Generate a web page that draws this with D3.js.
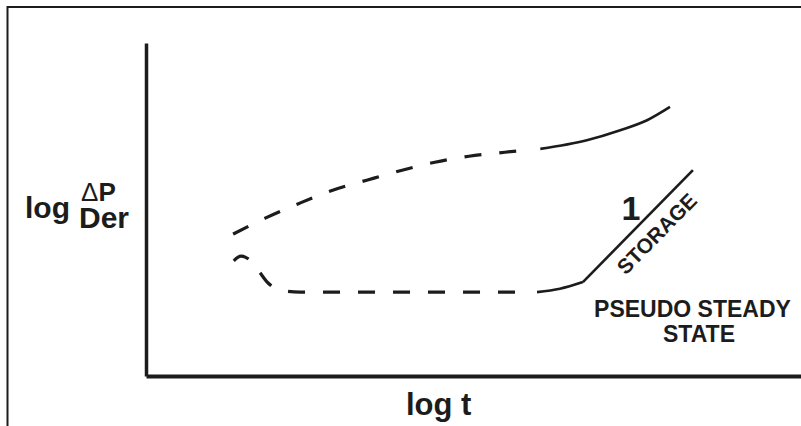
<!DOCTYPE html>
<html>
<head>
<meta charset="utf-8">
<script src="https://cdn.jsdelivr.net/npm/d3@7"></script>
<style>
  html, body { margin: 0; padding: 0; background: #fff; }
  svg { display: block; }
  text { font-family: "Liberation Sans", Arial, Helvetica, sans-serif; fill: #1c1c1c; }
</style>
</head>
<body>
<svg id="chart" width="801" height="426"></svg>
<script>
// Diagnostic log-log plot: pressure change (upper) and derivative (lower)
// Values are in arbitrary log units: [log t, log value]

// Pressure change, early part drawn dashed
const pressureDashed = [
  [1.33, 2.13], [1.82, 2.37], [2.31, 2.58], [2.85, 2.79], [3.37, 2.94],
  [3.91, 3.09], [4.41, 3.21], [4.93, 3.30], [5.48, 3.36], [5.77, 3.39]
];
// Pressure change, late part drawn solid
const pressureSolid = [
  [6.02, 3.41], [6.73, 3.54], [7.24, 3.69], [7.65, 3.84], [8.00, 4.04]
];
// Derivative, early hump and flat stretch drawn dashed
const derivativeDashed = [
  [1.34, 1.73], [1.45, 1.80], [1.56, 1.76], [1.71, 1.59], [1.86, 1.40],
  [2.05, 1.29], [2.35, 1.26], [3.88, 1.26], [5.68, 1.26]
];
// Derivative, upturn before the unit slope
const derivativeSolid = [
  [5.97, 1.26], [6.32, 1.31], [6.67, 1.41]
];
// Unit-slope (storage / pseudo steady state) straight line
const storageLine = [
  [6.67, 1.41], [8.35, 3.09]
];

const xTitle = "log t";
const yTitleLog = "log";
const yTitleTop = "\u0394P";
const yTitleBottom = "Der";
const slopeLabel = "1";
const storageLabel = "STORAGE";
const regionLabel = ["PSEUDO STEADY", "STATE"];

const svg = d3.select("#chart");
const W = 801, H = 426;
const ink = "#1c1c1c";

const x = d3.scaleLinear().domain([0, 10]).range([146, 801]);
const y = d3.scaleLinear().domain([0, 5]).range([376, 43]);

// Outer frame (top and left edges)
svg.append("line").attr("x1", 7.5).attr("x2", W).attr("y1", 7).attr("y2", 7)
  .attr("stroke", ink).attr("stroke-width", 2);
svg.append("line").attr("x1", 7.5).attr("x2", 7.5).attr("y1", 6).attr("y2", H)
  .attr("stroke", ink).attr("stroke-width", 2);

// Axes without ticks
const xAxis = d3.axisBottom(x).tickValues([]).tickSizeOuter(0);
const yAxis = d3.axisLeft(y).tickValues([]).tickSizeOuter(0);
svg.append("g").attr("transform", `translate(0,${y(0)})`).call(xAxis)
  .select(".domain").attr("stroke", ink).attr("stroke-width", 4);
svg.append("g").attr("transform", `translate(${x(0)},0)`).call(yAxis)
  .select(".domain").attr("stroke", ink).attr("stroke-width", 3.5);

const line = d3.line().x(d => x(d[0])).y(d => y(d[1])).curve(d3.curveMonotoneX);
const straight = d3.line().x(d => x(d[0])).y(d => y(d[1]));

function draw(data, gen, width, dash) {
  const p = svg.append("path").datum(data).attr("d", gen)
    .attr("fill", "none").attr("stroke", ink).attr("stroke-width", width)
    .attr("stroke-linecap", "butt").attr("stroke-linejoin", "round");
  if (dash) p.attr("stroke-dasharray", dash);
  return p;
}

draw(pressureDashed, line, 3.2, "17,18");
draw(pressureSolid, line, 2.6);
draw(derivativeDashed, line, 3.2, "17,18");
draw(derivativeSolid, line, 2.6);
draw(storageLine, straight, 2.6);

// Labels on the unit-slope line
const [pa, pb] = storageLine.map(d => [x(d[0]), y(d[1])]);
const ldx = pb[0] - pa[0], ldy = pb[1] - pa[1];
const llen = Math.hypot(ldx, ldy);
const nx = -ldy / llen, ny = ldx / llen;   // normal, pointing below-right
const ang = Math.atan2(ldy, ldx) * 180 / Math.PI;
const tPos = 0.55;
const mx = pa[0] + ldx * tPos, my = pa[1] + ldy * tPos;

svg.append("text")
  .attr("transform", `translate(${mx + nx * 18.5},${my + ny * 18.5}) rotate(${ang})`)
  .attr("text-anchor", "middle").attr("dominant-baseline", "central")
  .attr("font-size", 21).attr("font-weight", "bold")
  .text(storageLabel);

svg.append("text")
  .attr("x", mx - nx * 17.5).attr("y", my - ny * 17.5)
  .attr("text-anchor", "middle").attr("dominant-baseline", "central")
  .attr("font-size", 34).attr("font-weight", "bold")
  .text(slopeLabel);

svg.append("text").attr("x", 692.5).attr("y", 317)
  .attr("text-anchor", "middle").attr("font-size", 23).attr("font-weight", "bold")
  .text(regionLabel[0]);
svg.append("text").attr("x", 699).attr("y", 342)
  .attr("text-anchor", "middle").attr("font-size", 23).attr("font-weight", "bold")
  .text(regionLabel[1]);

// Axis titles
svg.append("text").attr("x", 406).attr("y", 415)
  .attr("font-size", 31).attr("font-weight", "bold").text(xTitle);

svg.append("text").attr("x", 25).attr("y", 218)
  .attr("font-size", 30).attr("font-weight", "bold").text(yTitleLog);
const yTop = svg.append("text").attr("x", 81).attr("y", 201)
  .attr("font-size", 26).attr("font-weight", "bold");
yTop.append("tspan").attr("font-weight", "normal").text(yTitleTop.charAt(0));
yTop.append("tspan").text(yTitleTop.slice(1));
svg.append("text").attr("x", 79).attr("y", 228)
  .attr("font-size", 30).attr("font-weight", "bold").text(yTitleBottom);
</script>
</body>
</html>
